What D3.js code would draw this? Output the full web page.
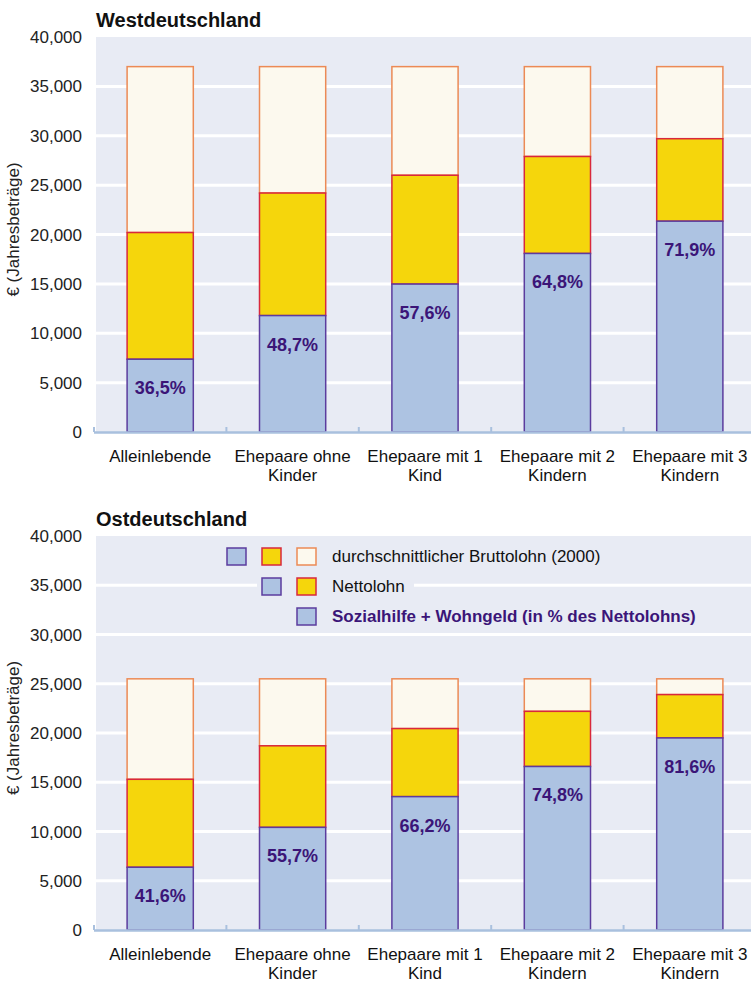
<!DOCTYPE html>
<html>
<head>
<meta charset="utf-8">
<script src="https://d3js.org/d3.v7.min.js"></script>
<style>
body { margin: 0; background: #fff; }
svg { display: block; font-family: "Liberation Sans", Arial, sans-serif; }
</style>
</head>
<body>
<script>
// categories (label lines)
var categories = [
  ["Alleinlebende"],
  ["Ehepaare ohne", "Kinder"],
  ["Ehepaare mit 1", "Kind"],
  ["Ehepaare mit 2", "Kindern"],
  ["Ehepaare mit 3", "Kindern"]
];
var yTicks = [0, 5000, 10000, 15000, 20000, 25000, 30000, 35000, 40000];

// Westdeutschland
var westBrutto = [37000, 37000, 37000, 37000, 37000];
var westNetto  = [20200, 24200, 26000, 27900, 29700];
var westSozial = [7370, 11790, 14980, 18080, 21350];
var westPct    = ["36,5%", "48,7%", "57,6%", "64,8%", "71,9%"];

// Ostdeutschland
var ostBrutto = [25500, 25500, 25500, 25500, 25500];
var ostNetto  = [15300, 18700, 20450, 22200, 23900];
var ostSozial = [6370, 10420, 13540, 16600, 19500];
var ostPct    = ["41,6%", "55,7%", "66,2%", "74,8%", "81,6%"];

var legendRows = [
  {text: "durchschnittlicher Bruttolohn (2000)", keys: ["sozial", "netto", "brutto"], bold: false},
  {text: "Nettolohn", keys: ["sozial", "netto"], bold: false},
  {text: "Sozialhilfe + Wohngeld (in % des Nettolohns)", keys: ["sozial"], bold: true}
];

var fills   = {brutto: "#fcf9ee", netto: "#f5d60c", sozial: "#adc3e2"};
var strokes = {brutto: "#ec8a55", netto: "#d8283c", sozial: "#5b3c9e"};
var bg = "#e8ebf4";
var purple = "#3b1578";

var svg = d3.select("body").append("svg")
  .attr("width", 751)
  .attr("height", 983);

var x = d3.scaleBand()
  .domain(d3.range(categories.length))
  .range([94, 756])
  .paddingInner(0.5)
  .paddingOuter(0.25);

function panel(title, top, bottom, brutto, netto, sozial, pct, withLegend) {
  var g = svg.append("g");
  var y = d3.scaleLinear().domain([0, 40000]).range([bottom, top]);

  g.append("rect")
    .attr("x", 96).attr("y", y(40000))
    .attr("width", 751 - 96).attr("height", y(0) - y(40000))
    .attr("fill", bg);

  // grid
  g.selectAll(".grid").data(yTicks.filter(function(d) { return d > 0 && d < 40000; }))
    .enter().append("line")
    .attr("x1", 96).attr("x2", 751)
    .attr("y1", function(d) { return y(d); })
    .attr("y2", function(d) { return y(d); })
    .attr("stroke", "#fff").attr("stroke-width", 3);

  // y labels
  g.selectAll(".ylab").data(yTicks).enter().append("text")
    .attr("x", 82).attr("y", function(d) { return y(d); })
    .attr("dy", "0.36em")
    .attr("text-anchor", "end")
    .attr("font-size", 17)
    .attr("fill", "#222")
    .text(d3.format(","));

  g.append("text")
    .attr("transform", "translate(19," + ((top + bottom) / 2 - 5) + ") rotate(-90)")
    .attr("text-anchor", "middle")
    .attr("font-size", 17)
    .attr("fill", "#222")
    .text("€  (Jahresbeträge)");

  g.append("text")
    .attr("x", 96).attr("y", top - 10)
    .attr("font-size", 20).attr("font-weight", "bold")
    .attr("fill", "#111")
    .text(title);

  if (withLegend) {
    var lg = g.append("g");
    legendRows.forEach(function(row, r) {
      var ry = y(40000) + 12 + r * 30;
      var nk = row.keys.length;
      var sx0 = 297 - (nk - 1) * 35;
      lg.append("rect")
        .attr("x", sx0 - 5).attr("y", ry - 4)
        .attr("width", 332 - sx0 + 5 + (row.bold ? 372 : (r === 1 ? 82 : 276)))
        .attr("height", 25)
        .attr("fill", bg);
      row.keys.forEach(function(k, i) {
        lg.append("rect")
          .attr("x", sx0 + i * 35).attr("y", ry)
          .attr("width", 19).attr("height", 17)
          .attr("fill", fills[k]).attr("stroke", strokes[k]).attr("stroke-width", 1.5);
      });
      lg.append("text")
        .attr("x", 332).attr("y", ry + 14)
        .attr("font-size", 17)
        .attr("font-weight", row.bold ? "bold" : "normal")
        .attr("fill", row.bold ? purple : "#111")
        .text(row.text);
    });
  }

  var bars = g.selectAll(".bar").data(categories).enter().append("g");
  var bw = x.bandwidth();

  bars.append("rect")
    .attr("x", function(d, i) { return x(i); })
    .attr("y", function(d, i) { return y(brutto[i]); })
    .attr("width", bw)
    .attr("height", function(d, i) { return y(netto[i]) - y(brutto[i]); })
    .attr("fill", fills.brutto).attr("stroke", strokes.brutto).attr("stroke-width", 1.5);

  bars.append("rect")
    .attr("x", function(d, i) { return x(i); })
    .attr("y", function(d, i) { return y(netto[i]); })
    .attr("width", bw)
    .attr("height", function(d, i) { return y(sozial[i]) - y(netto[i]); })
    .attr("fill", fills.netto).attr("stroke", strokes.netto).attr("stroke-width", 1.5);

  bars.append("rect")
    .attr("x", function(d, i) { return x(i); })
    .attr("y", function(d, i) { return y(sozial[i]); })
    .attr("width", bw)
    .attr("height", function(d, i) { return y(0) - y(sozial[i]); })
    .attr("fill", fills.sozial).attr("stroke", strokes.sozial).attr("stroke-width", 1.5);

  bars.append("text")
    .attr("x", function(d, i) { return x(i) + bw / 2; })
    .attr("y", function(d, i) { return y(sozial[i]) + 35; })
    .attr("text-anchor", "middle")
    .attr("font-size", 18).attr("font-weight", "bold")
    .attr("fill", purple)
    .text(function(d, i) { return pct[i]; });

  // x axis
  var step = x.step();
  g.append("line")
    .attr("x1", 94).attr("x2", 751)
    .attr("y1", y(0) + 0.5).attr("y2", y(0) + 0.5)
    .attr("stroke", "#a9c0de").attr("stroke-width", 2.5);
  g.selectAll(".xt").data(d3.range(categories.length + 1)).enter().append("line")
    .attr("x1", function(i) { return 94 + i * step; })
    .attr("x2", function(i) { return 94 + i * step; })
    .attr("y1", y(0) - 5).attr("y2", y(0))
    .attr("stroke", "#a9c0de").attr("stroke-width", 2);

  bars.each(function(d, i) {
    var t = d3.select(this).append("text")
      .attr("text-anchor", "middle")
      .attr("font-size", 17)
      .attr("fill", "#111");
    d.forEach(function(line, j) {
      t.append("tspan")
        .attr("x", x(i) + bw / 2)
        .attr("y", y(0) + 30 + j * 18.5)
        .text(line);
    });
  });
}

panel("Westdeutschland", 37, 432, westBrutto, westNetto, westSozial, westPct, false);
panel("Ostdeutschland", 536, 930, ostBrutto, ostNetto, ostSozial, ostPct, true);
</script>
</body>
</html>
